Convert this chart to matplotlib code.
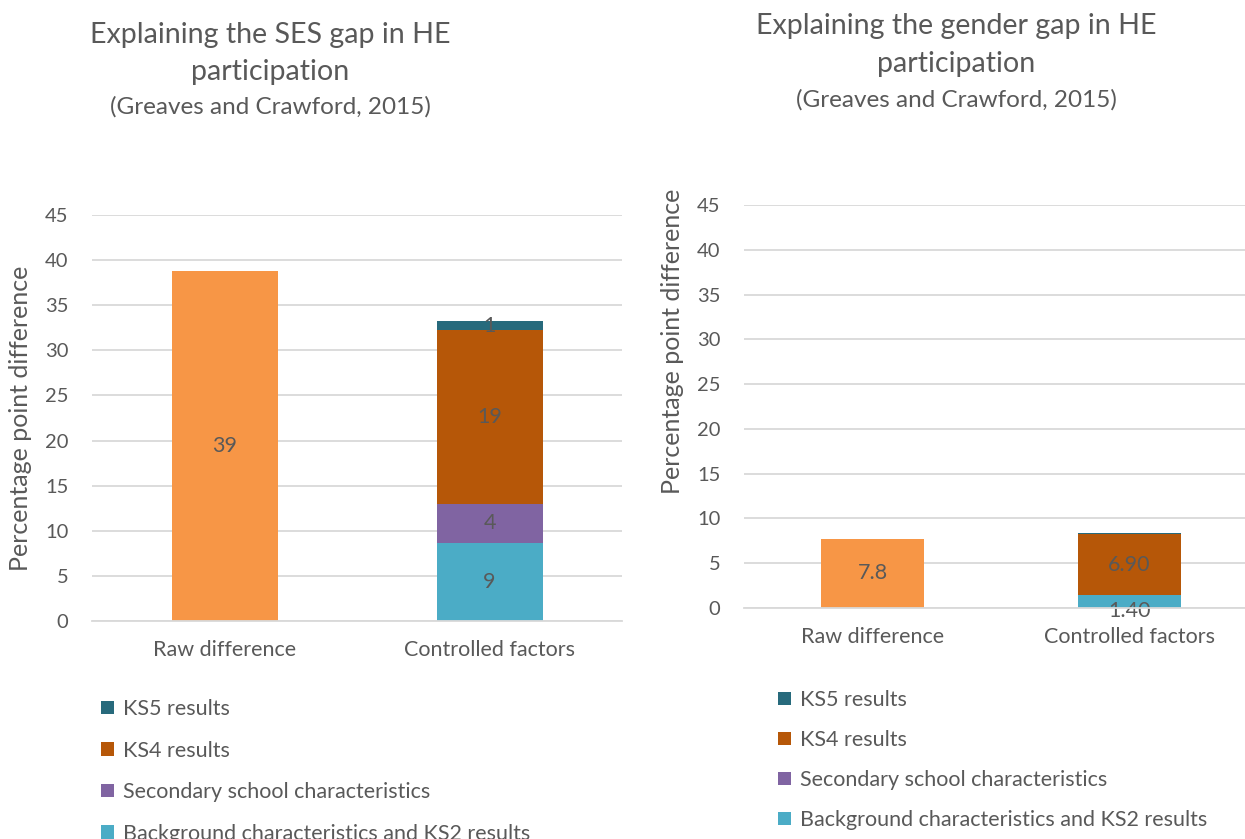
import matplotlib
matplotlib.use("Agg")
import matplotlib.pyplot as plt
from matplotlib.patches import Patch
import numpy as np

plt.rcParams['font.family'] = ['Lato', 'DejaVu Sans']

categories = ["Raw difference", "Controlled factors"]
components = ["Background characteristics and KS2 results",
              "Secondary school characteristics",
              "KS4 results",
              "KS5 results"]
colors = {"raw": "#F79646",
          "Background characteristics and KS2 results": "#4BACC6",
          "Secondary school characteristics": "#8064A2",
          "KS4 results": "#B65708",
          "KS5 results": "#276A7C"}

# SES panel
ses_raw = 38.8
ses_controlled = [8.7, 4.3, 19.2, 1.1]
ses_raw_label = "39"
ses_labels = ["9", "4", "19", "1"]

# Gender panel
gender_raw = 7.75
gender_controlled = [1.40, 0.0, 6.90, 0.1]
gender_raw_label = "7.8"
gender_labels = ["1.40", "", "6.90", ""]

yticks = [0, 5, 10, 15, 20, 25, 30, 35, 40, 45]

W, H = 1245, 839
fig = plt.figure(figsize=(W / 100, H / 100), dpi=100)

grey_text = "#595959"
grid_c = "#D9D9D9"


def px_axes(x0, x1, ytop, ybot):
    return [x0 / W, 1 - ybot / H, (x1 - x0) / W, (ybot - ytop) / H]


def draw_panel(ax, raw, raw_label, comps, labels, label_offsets):
    x = np.arange(len(categories))
    width = 0.4
    ax.bar(x[0], raw, width, color=colors["raw"], zorder=3)
    ax.text(x[0], raw / 2, raw_label, ha="center", va="center",
            color=grey_text, fontsize=15.5, zorder=4)
    bottom = 0.0
    for name, val, lab, off in zip(components, comps, labels, label_offsets):
        if val > 0:
            ax.bar(x[1], val, width, bottom=bottom, color=colors[name], zorder=3)
        if lab:
            ax.text(x[1], bottom + val / 2 + off, lab, ha="center", va="center",
                    color=grey_text, fontsize=15.5, zorder=4)
        bottom += val
    ax.set_xlim(-0.5, 1.5)
    ax.set_ylim(0, 45)
    ax.set_yticks(yticks)
    ax.set_xticks(x)
    ax.set_xticklabels(categories)
    ax.tick_params(axis="y", length=0, pad=17, labelsize=14.5, labelcolor=grey_text)
    ax.tick_params(axis="x", length=0, pad=14, labelsize=15.5, labelcolor=grey_text)
    ax.grid(axis="y", color=grid_c, linewidth=1.3, zorder=0)
    for s in ["top", "right", "left"]:
        ax.spines[s].set_visible(False)
    ax.spines["bottom"].set_color(grid_c)
    ax.spines["bottom"].set_linewidth(1.3)
    ax.spines["bottom"].set_zorder(5)
    ax.set_axisbelow(True)


ax1 = fig.add_axes(px_axes(92, 622, 215, 621))
draw_panel(ax1, ses_raw, ses_raw_label, ses_controlled, ses_labels, [0, 0, 0, 0])

ax2 = fig.add_axes(px_axes(744, 1258, 205, 608))
draw_panel(ax2, gender_raw, gender_raw_label, gender_controlled, gender_labels,
           [-1.0, 0, 0, 0])

# titles
fig.text(270 / W, 1 - 35 / H, "Explaining the SES gap in HE", ha="center",
         va="center", fontsize=20.6, color=grey_text)
fig.text(270 / W, 1 - 72 / H, "participation", ha="center",
         va="center", fontsize=20.6, color=grey_text)
fig.text(270 / W, 1 - 107 / H, "(Greaves and Crawford, 2015)", ha="center",
         va="center", fontsize=17.5, color=grey_text)

fig.text(956 / W, 1 - 26 / H, "Explaining the gender gap in HE", ha="center",
         va="center", fontsize=20.6, color=grey_text)
fig.text(956 / W, 1 - 64 / H, "participation", ha="center",
         va="center", fontsize=20.6, color=grey_text)
fig.text(956 / W, 1 - 100 / H, "(Greaves and Crawford, 2015)", ha="center",
         va="center", fontsize=17.5, color=grey_text)

# y labels
fig.text(21 / W, 1 - 418 / H, "Percentage point difference", rotation=90,
         ha="center", va="center", fontsize=18, color=grey_text)
fig.text(673 / W, 1 - 341 / H, "Percentage point difference", rotation=90,
         ha="center", va="center", fontsize=18, color=grey_text)

# legends
handles = [Patch(facecolor=colors[n], edgecolor="none") for n in components[::-1]]
labels_leg = components[::-1]
for (lx, ly, sp) in [(101, 699, 1.0), (778, 690, 0.93)]:
    fig.legend(handles, labels_leg, loc="upper left",
               bbox_to_anchor=(lx / W, 1 - ly / H), frameon=False,
               fontsize=15.5, labelcolor=grey_text, handlelength=0.6,
               handleheight=0.6, handletextpad=0.4, labelspacing=sp,
               borderaxespad=0, borderpad=0)

fig.savefig("out.png", dpi=100)
